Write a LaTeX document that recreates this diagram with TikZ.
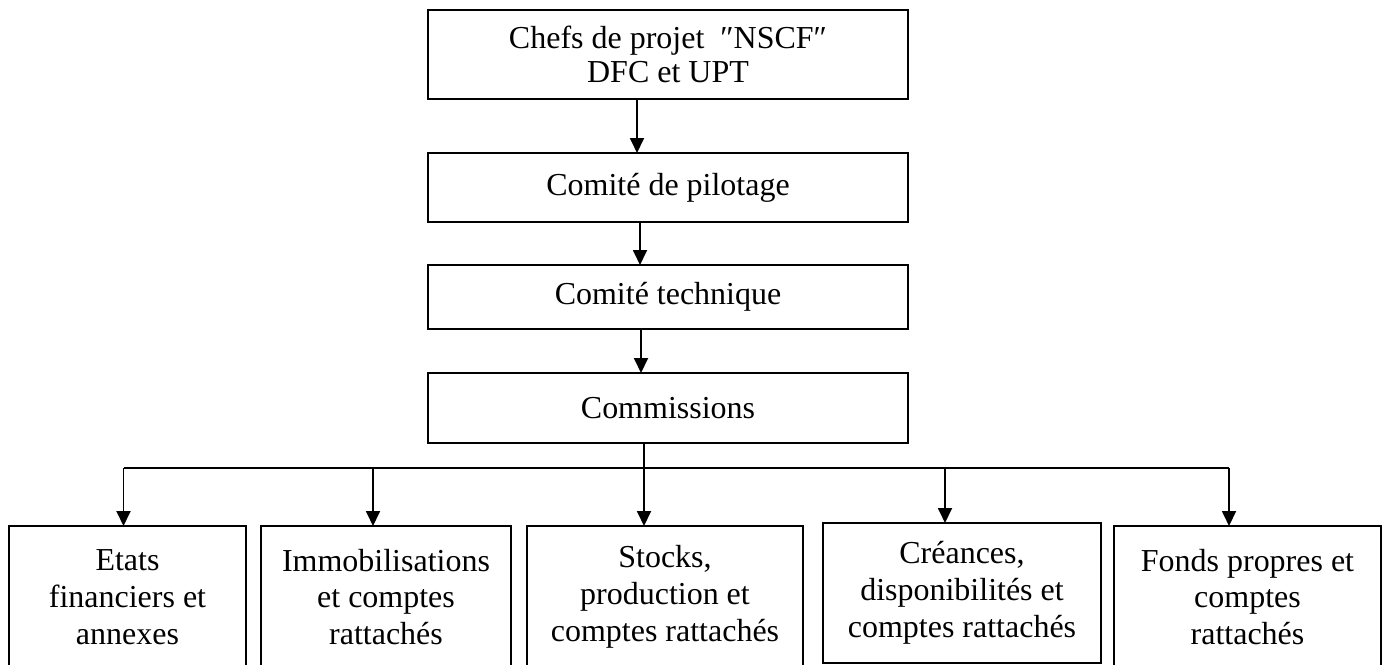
\documentclass[tikz,border=0pt]{standalone}
\usepackage{fontspec}
\setmainfont{Liberation Serif}
\usepackage{tikz}
\usetikzlibrary{arrows.meta, positioning}

\begin{document}
\begin{tikzpicture}[every node/.style={align=center, inner sep=0pt, outer sep=0pt, font=\fontsize{18.2}{21}\selectfont},
        orgbox/.style={draw, line width=1.15pt, minimum width=9.6cm},
        subbox/.style={draw, line width=1.15pt, minimum height=2.84cm},
        link/.style={line width=1.05pt, -{Triangle[length=0.3cm, width=0.28cm]}}]
        \clip (0,0) rectangle (27.66,-13.28);

        \node[orgbox, minimum height=1.78cm, font=\fontsize{18.2}{19}\selectfont] (chefs) at (13.36,-1.09) {Chefs de projet\ \ ″NSCF″\\DFC et UPT};
        \node[orgbox, minimum height=1.38cm, below=1.08cm of chefs] (pilotage) {Comité de pilotage};
        \node[orgbox, minimum height=1.28cm, below=0.86cm of pilotage] (technique) {Comité technique};
        \node[orgbox, minimum height=1.4cm, below=0.88cm of technique] (commissions) {Commissions};

        \coordinate (bus) at (12.88,-9.36);

        \node[subbox, minimum width=4.74cm, anchor=north west] (etats) at (0.18,-10.52) {Etats\\financiers et\\annexes};
        \node[subbox, minimum width=5cm, right=0.3cm of etats.north east, anchor=north west] (immo) {Immobilisations\\et comptes\\rattachés};
        \node[subbox, minimum width=5.52cm, right=0.32cm of immo.north east, anchor=north west] (stocks) {Stocks,\\production et\\comptes rattachés};
        \node[subbox, minimum width=5.56cm, minimum height=2.8cm, right=0.4cm of stocks.north east, anchor=north west, yshift=0.06cm] (creances) {Créances,\\disponibilités et\\comptes rattachés};
        \node[subbox, minimum width=5.34cm, right=0.26cm of creances.north east, anchor=north west, yshift=-0.06cm] (fonds) {Fonds propres et\\comptes\\rattachés};

        \draw[link] ([xshift=-0.62cm]chefs.south) -- ([xshift=-0.62cm]pilotage.north);
        \draw[link] ([xshift=-0.56cm]pilotage.south) -- ([xshift=-0.56cm]technique.north);
        \draw[link] ([xshift=-0.54cm]technique.south) -- ([xshift=-0.54cm]commissions.north);

        \draw[line width=1.05pt] (commissions.south -| bus) -- (bus);
        \draw[line width=1.05pt] ([xshift=-0.08cm]etats.north |- bus) -- ([xshift=-0.37cm]fonds.north |- bus);
        \draw[link] ([xshift=-0.08cm]etats.north |- bus) -- ([xshift=-0.08cm]etats.north);
        \draw[link] ([xshift=-0.26cm]immo.north |- bus) -- ([xshift=-0.26cm]immo.north);
        \draw[link] (bus) -- (bus |- stocks.north);
        \draw[link] ([xshift=-0.34cm]creances.north |- bus) -- ([xshift=-0.34cm]creances.north);
        \draw[link] ([xshift=-0.37cm]fonds.north |- bus) -- ([xshift=-0.37cm]fonds.north);
    \end{tikzpicture}
\end{document}
